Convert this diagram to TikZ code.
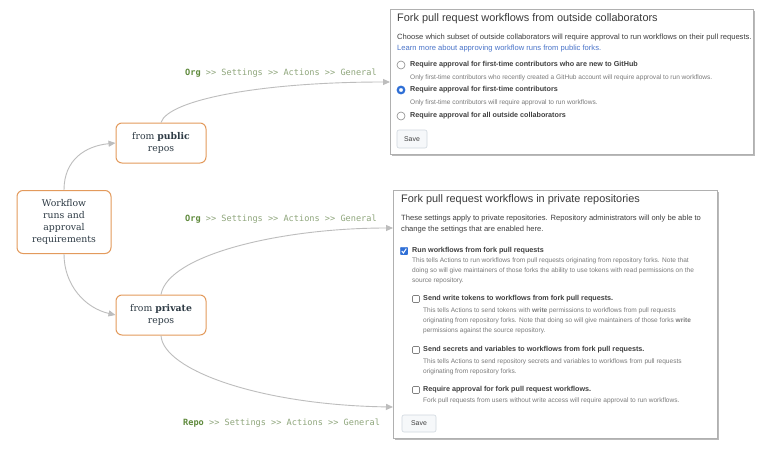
\documentclass[tikz,border=0pt]{standalone}
\usepackage{fontspec}
\newfontfamily\slab{DejaVu Serif}
\newfontfamily\ui{Liberation Sans}
\setmonofont{DejaVu Sans Mono}
\usetikzlibrary{arrows.meta,shadows}
\definecolor{boxorange}{HTML}{E39A5C}
\definecolor{nodetext}{HTML}{2E3B45}
\definecolor{conngray}{HTML}{BDBDBD}
\definecolor{crumbdark}{HTML}{5F8A3C}
\definecolor{crumblight}{HTML}{8FA67C}
\definecolor{panelborder}{HTML}{B0B0B0}
\definecolor{titlegray}{HTML}{3A3A3A}
\definecolor{bodygray}{HTML}{3F3F3F}
\definecolor{smallgray}{HTML}{7A7A7A}
\definecolor{linkblue}{HTML}{4A74C9}
\definecolor{uiblue}{HTML}{2F6FD6}
\definecolor{btnfill}{HTML}{F6F8FA}
\definecolor{btnborder}{HTML}{D0D7DE}
\newcommand{\crumb}[1]{{\color{crumbdark}\bfseries #1}\color{crumblight}{} >> Settings >> Actions >> General}
\begin{document}
\begin{tikzpicture}[x=1pt,y=-1pt,
  flow/.style={draw=boxorange, line width=1pt, rounded corners=6pt, fill=white,
    align=center, font=\slab\fontsize{9.3}{12}\selectfont, text=nodetext,
    minimum width=90pt, inner sep=2pt},
  conn/.style={draw=conngray, line width=0.9pt, -{Triangle[length=7pt,width=6pt]}},
  crumbtext/.style={anchor=west, inner sep=0pt, font=\ttfamily\fontsize{8.6}{10}\selectfont},
  panel/.style={draw=panelborder, line width=1pt, fill=white, anchor=north west,
    drop shadow={shadow xshift=1.5pt, shadow yshift=-1.8pt, opacity=0.45, fill=black!60}},
  ptitle/.style={anchor=west, inner sep=0pt, font=\ui\fontsize{10.9}{12}\selectfont, text=titlegray},
  pbody/.style={anchor=west, inner sep=0pt, font=\ui\fontsize{7.6}{9}\selectfont, text=bodygray},
  plink/.style={pbody, text=linkblue},
  popt/.style={anchor=west, inner sep=0pt, font=\ui\bfseries\fontsize{7.2}{8}\selectfont, text=bodygray},
  psmall/.style={anchor=west, inner sep=0pt, font=\ui\fontsize{6.55}{8}\selectfont, text=smallgray},
  radio/.style={circle, draw=black!45, line width=0.6pt, fill=white, minimum size=8pt, inner sep=0pt},
  radioon/.style={circle, draw=uiblue, line width=2.2pt, fill=white, minimum size=6.5pt, inner sep=0pt},
  cbox/.style={draw=black!50, line width=0.6pt, rounded corners=1pt, fill=white, minimum size=7pt, inner sep=0pt},
  cboxon/.style={draw=uiblue, fill=uiblue, rounded corners=1pt, minimum size=7.5pt, inner sep=0pt},
  btn/.style={draw=btnborder, line width=0.6pt, fill=btnfill, rounded corners=2pt, inner sep=0pt,
    font=\ui\fontsize{6.9}{8}\selectfont, text=bodygray}
]
\useasboundingbox (0,0) rectangle (768,455);
\fill[white] (0,0) rectangle (768,455);

% flow nodes
\node[flow, minimum width=94pt, minimum height=63pt] (root) at (64,222) {Workflow\\runs and\\approval\\requirements};
\node[flow, minimum height=40pt] (pub) at (161,143) {from \textbf{public}\\repos};
\node[flow, minimum height=40pt] (priv) at (161,315) {from \textbf{private}\\repos};

% panels
\node[panel, minimum width=363pt, minimum height=145pt] (p1) at (390,9) {};
\node[panel, minimum width=324pt, minimum height=248pt] (p2) at (393,190) {};

\coordinate (p1in) at (390,82);
\coordinate (p2in) at (393,228);
\coordinate (p2low) at (393,407);

% connectors
\draw[conn] (root.north) .. controls (64,160) and (85,146) .. (pub.west);
\draw[conn] (root.south) .. controls (64,285) and (85,308) .. (priv.west);
\draw[conn] (pub.north) .. controls (168,100) and (260,82) .. (p1in);
\draw[conn] (priv.north) .. controls (168,255) and (280,228) .. (p2in);
\draw[conn] (priv.south) .. controls (163,370) and (260,405) .. (p2low);

% breadcrumbs
\node[crumbtext] (c1) at (185,73) {\crumb{Org}};
\node[crumbtext] (c2) at (185,219) {\crumb{Org}};
\node[crumbtext] (c3) at (183,423) {\crumb{Repo}};

% panel 1 contents
\node[ptitle] (t1) at (397,19) {Fork pull request workflows from outside collaborators};
\node[pbody] (b1) at (397,38) {Choose which subset of outside collaborators will require approval to run workflows on their pull requests.};
\node[plink] (l1) at (397,49) {Learn more about approving workflow runs from public forks.};
\node[radio] (r1) at (401,65) {};
\node[popt] (o1) at (410,65) {Require approval for first-time contributors who are new to GitHub};
\node[psmall] (s1) at (410,78) {Only first-time contributors who recently created a GitHub account will require approval to run workflows.};
\node[radioon] (r2) at (401,90) {};
\node[popt] (o2) at (410,90) {Require approval for first-time contributors};
\node[psmall] (s2) at (410,103) {Only first-time contributors will require approval to run workflows.};
\node[radio] (r3) at (401,116) {};
\node[popt] (o3) at (410,116) {Require approval for all outside collaborators};
\node[btn, minimum width=30pt, minimum height=18pt] (save1) at (412,139) {Save};

% panel 2 contents
\node[ptitle] (t2) at (401,200) {Fork pull request workflows in private repositories};
\node[pbody] (b2a) at (401,219) {These settings apply to private repositories. Repository administrators will only be able to};
\node[pbody] (b2b) at (401,230) {change the settings that are enabled here.};
\node[cboxon] (k1) at (404,251) {};
\draw[white, line width=1pt] (401.8,251) -- (403.4,253) -- (406.3,248.6);
\node[popt] (q1) at (412,251) {Run workflows from fork pull requests};
\node[psmall] (u1a) at (412,261) {This tells Actions to run workflows from pull requests originating from repository forks. Note that};
\node[psmall] (u1b) at (412,271) {doing so will give maintainers of those forks the ability to use tokens with read permissions on the};
\node[psmall] (u1c) at (412,281) {source repository.};
\node[cbox] (k2) at (416,299) {};
\node[popt] (q2) at (423,299) {Send write tokens to workflows from fork pull requests.};
\node[psmall] (u2a) at (423,311) {This tells Actions to send tokens with \textbf{write} permissions to workflows from pull requests};
\node[psmall] (u2b) at (423,321) {originating from repository forks. Note that doing so will give maintainers of those forks \textbf{write}};
\node[psmall] (u2c) at (423,331) {permissions against the source repository.};
\node[cbox] (k3) at (416,350) {};
\node[popt] (q3) at (423,350) {Send secrets and variables to workflows from fork pull requests.};
\node[psmall] (u3a) at (423,362) {This tells Actions to send repository secrets and variables to workflows from pull requests};
\node[psmall] (u3b) at (423,372) {originating from repository forks.};
\node[cbox] (k4) at (416,390) {};
\node[popt] (q4) at (423,390) {Require approval for fork pull request workflows.};
\node[psmall] (u4a) at (423,401) {Fork pull requests from users without write access will require approval to run workflows.};
\node[btn, minimum width=34pt, minimum height=17pt] (save2) at (419,423.5) {Save};
\end{tikzpicture}
\end{document}
